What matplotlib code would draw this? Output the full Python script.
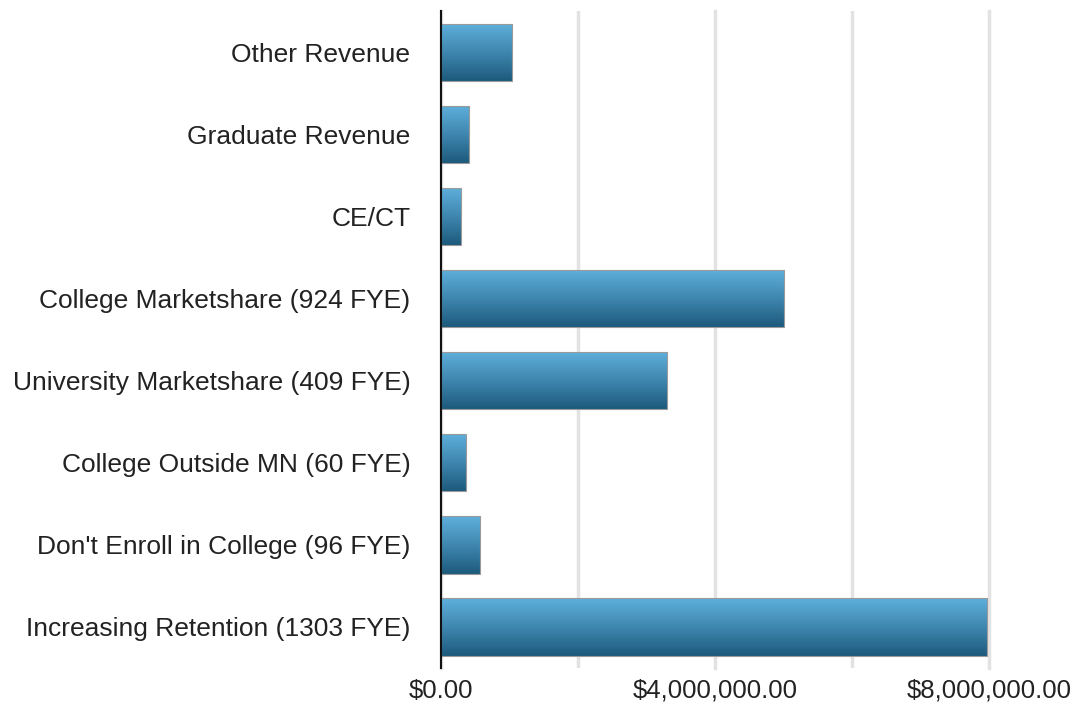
import numpy as np
import matplotlib.pyplot as plt
from matplotlib.colors import LinearSegmentedColormap
from matplotlib.ticker import FuncFormatter

# data (bottom to top)
categories = ["Increasing Retention (1303 FYE)", "Don't Enroll in College (96 FYE)",
              "College Outside MN (60 FYE)", "University Marketshare (409 FYE)",
              "College Marketshare (924 FYE)", "CE/CT", "Graduate Revenue", "Other Revenue"]
values = [7970000, 570000, 360000, 3300000, 5010000, 290000, 410000, 1040000]
xticks = [0, 4000000, 8000000]
minor_ticks = [2000000, 6000000]

plt.rcParams['font.family'] = ['Liberation Sans', 'DejaVu Sans']

fig = plt.figure(figsize=(10.78, 7.09), dpi=100)
ax = fig.add_axes([0.409, 0.058, 0.5085, 0.926])

y = np.arange(len(categories))
bars = ax.barh(y, values, height=0.7, color='none', edgecolor='#9a9a9a', linewidth=0.8, zorder=3)

# gradient fill, light on top, dark at bottom
cmap = LinearSegmentedColormap.from_list('g', ['#1d5a7c', '#3f87b0', '#5eb0dc'])
grad = np.linspace(0, 1, 256).reshape(-1, 1)
for b in bars:
    x0, y0 = b.get_x(), b.get_y()
    w, h = b.get_width(), b.get_height()
    im = ax.imshow(grad, cmap=cmap, aspect='auto', origin='lower',
                   extent=[x0, x0 + w, y0, y0 + h], zorder=2)
    im.set_clip_path(b)

ax.set_xlim(0, 8000000)
ax.set_ylim(-0.5, len(categories) - 0.5)
ax.set_yticks(y)
ax.set_yticklabels(categories, fontsize=19, color='#222222')
ax.set_xticks(xticks)
ax.set_xticks(minor_ticks, minor=True)
ax.xaxis.set_major_formatter(FuncFormatter(lambda v, p: '${:,.2f}'.format(v)))
ax.tick_params(axis='x', which='both', length=0, labelsize=18.5, pad=8, colors='#222222')
ax.tick_params(axis='y', length=0, pad=22)
ax.grid(axis='x', which='both', color='#e2e2e2', linewidth=2.5, zorder=0)
for gl in ax.get_xgridlines():
    gl.set_clip_on(False)
ax.set_axisbelow(True)

for s in ['top', 'right', 'bottom']:
    ax.spines[s].set_visible(False)
ax.spines['left'].set_linewidth(1.5)
ax.spines['left'].set_color('#111111')
ax.spines['left'].set_zorder(4)

fig.savefig('out.png', dpi=100)
